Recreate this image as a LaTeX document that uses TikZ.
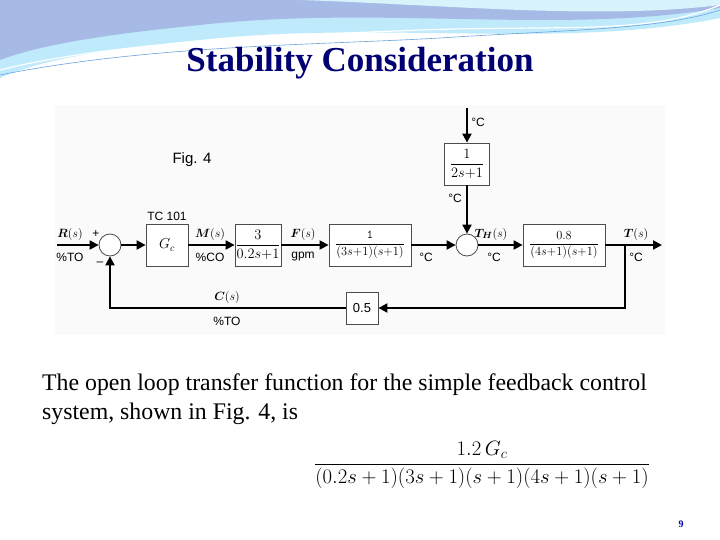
\documentclass[tikz,border=0pt]{standalone}
\usepackage{amsmath,amssymb,graphicx}
\usepackage{fontspec}
\setmainfont{Liberation Serif}
\setsansfont{Liberation Sans}
\usetikzlibrary{arrows.meta}
\begin{document}
\begin{tikzpicture}[x=1pt,y=-1pt,
  blk/.style={draw=black!70,line width=0.8pt,fill=white,inner sep=0pt,font=\fontsize{14}{16}\selectfont},
  sumc/.style={draw=black!70,line width=0.8pt,circle,minimum size=22pt,inner sep=0pt,fill=white},
  sig/.style={line width=2pt,-{Triangle[length=9pt,width=9pt]}},
  lbl/.style={font=\fontsize{12}{14}\selectfont\sffamily},
  mlb/.style={font=\fontsize{13}{15}\selectfont}]
\useasboundingbox (0,0) rectangle (720,540);
\fill[white] (0,0) rectangle (720,540);
% header swooshes
\fill[cyan!25] (0,0) -- (720,0) -- (720,18) .. controls (560,50) and (380,20) .. (200,40) .. controls (100,50) and (40,60) .. (0,78) -- cycle;
\fill[cyan!45!blue!35] (0,0) -- (720,0) -- (720,8) .. controls (560,35) and (380,5) .. (200,25) .. controls (100,35) and (40,45) .. (0,60) -- cycle;
\fill[cyan!15] (300,0) -- (720,0) -- (720,5) .. controls (600,20) and (450,5) .. (300,0);
\draw[white,line width=1.2pt] (0,70) .. controls (120,40) and (300,35) .. (420,30) .. controls (560,25) and (650,35) .. (720,5);
\draw[cyan!60!blue!60,line width=0.6pt] (0,75) .. controls (150,45) and (320,45) .. (440,38) .. controls (560,30) and (660,30) .. (720,10);
\node[font=\fontsize{35}{40}\selectfont\bfseries,text=blue!45!black] (title) at (360,63) {Stability Consideration};
% diagram panel
\fill[black!2] (55,105) rectangle (665,335);
\node[lbl,font=\fontsize{15}{17}\selectfont\sffamily] (fig) at (192,160) {Fig. 4};
\node[sumc] (s1) at (110,245) {};
\node[blk,minimum width=42pt,minimum height=42pt] (gc) at (167,245) {$G_c$};
\node[lbl,anchor=south] (tc) at (167,224) {TC 101};
\node[blk,minimum width=46pt,minimum height=42pt] (b1) at (258,245) {$\dfrac{3}{0.2s{+}1}$};
\node[blk,minimum width=82pt,minimum height=42pt] (b2) at (370,245) {\scalebox{0.86}{$\dfrac{\texttt{1}}{(3s{+}1)(s{+}1)}$}};
\node[sumc] (s2) at (467,245) {};
\node[blk,minimum width=45pt,minimum height=42pt] (b3) at (467,164) {$\dfrac{1}{2s{+}1}$};
\node[blk,minimum width=82pt,minimum height=42pt] (b4) at (564,245) {\scalebox{0.86}{$\dfrac{0.8}{(4s{+}1)(s{+}1)}$}};
\node[blk,minimum width=32pt,minimum height=32pt,font=\fontsize{13}{15}\selectfont\sffamily] (b5) at (362,308) {0.5};
\coordinate (in) at (57,245);
\coordinate (top) at (467,108);
\coordinate (br) at (625,245);
\coordinate (out) at (662,245);
\coordinate (c1) at (625,308);
\coordinate (c2) at (110,308);
\draw[sig] (in) -- (s1);
\draw[sig] (s1) -- (gc);
\draw[sig] (gc) -- (b1);
\draw[sig] (b1) -- (b2);
\draw[sig] (b2) -- (s2);
\draw[sig] (top) -- (b3);
\draw[sig] (b3) -- (s2);
\draw[sig] (s2) -- (b4);
\draw[sig] (b4) -- (out);
\draw[sig] (br) -- (c1) -- (b5);
\draw[sig] (b5) -- (c2) -- (s1);
% labels
\node[mlb] (lr) at (70,234) {$\boldsymbol{R}(s)$};
\node[lbl] (lp) at (96,234) {+};
\node[lbl] (lm) at (100,264) {\textendash};
\node[lbl] (lto) at (70,257) {\%TO};
\node[mlb] (lms) at (210,234) {$\boldsymbol{M}(s)$};
\node[lbl] (lco) at (210,257) {\%CO};
\node[mlb] (lfs) at (303,234) {$\boldsymbol{F}(s)$};
\node[lbl] (lgpm) at (303,257) {gpm};
\node[lbl] (ldc1) at (426,257) {°C};
\node[mlb] (lth) at (491,234) {$\boldsymbol{T_H}(s)$};
\node[lbl] (ldc2) at (494,257) {°C};
\node[lbl] (ldc3) at (478,122) {°C};
\node[lbl] (ldc4) at (455,198) {°C};
\node[mlb] (lts) at (636,234) {$\boldsymbol{T}(s)$};
\node[lbl] (ldc5) at (636,257) {°C};
\node[mlb] (lcs) at (227,297) {$\boldsymbol{C}(s)$};
\node[lbl] (lto2) at (227,321) {\%TO};
% text
\node[anchor=west,font=\fontsize{23.8}{29}\selectfont,align=left,inner sep=0pt] (txt) at (42,399) {The open loop transfer function for the simple feedback control\\system, shown in Fig. 4, is};
\node[font=\fontsize{21}{25}\selectfont] (eq) at (482,465) {$\dfrac{1.2\,G_c}{(0.2s+1)(3s+1)(s+1)(4s+1)(s+1)}$};
\node[font=\fontsize{10}{12}\selectfont\bfseries,text=blue!60!black] (pg) at (681,524) {9};
\end{tikzpicture}
\end{document}
